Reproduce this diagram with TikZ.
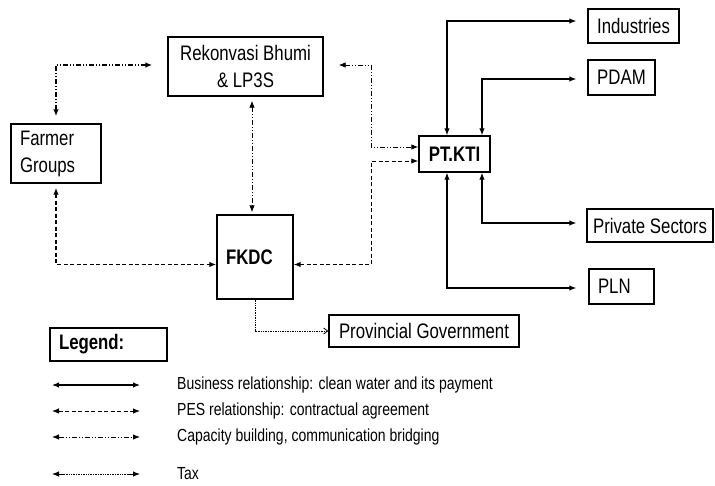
\documentclass[tikz,border=0pt]{standalone}
\usepackage{fontspec}
\setmainfont{Liberation Sans}[FakeStretch=0.8]
\usetikzlibrary{arrows.meta}
\begin{document}
\begin{tikzpicture}[x=1pt,y=-1pt,
  box/.style={draw, line width=1.4pt, inner sep=0pt, font=\fontsize{21}{27}\selectfont, align=center},
  lbox/.style={box, align=left, inner xsep=9pt},
  boldtext/.style={font=\fontsize{21}{27}\selectfont\bfseries},
  bothtips/.style={{Latex[length=7pt,width=5.5pt]}-{Latex[length=7pt,width=5.5pt]}},
  bizline/.style={bothtips, line width=1.2pt},
  pesline/.style={bothtips, line width=1.2pt, dash pattern=on 4pt off 2.5pt},
  capline/.style={bothtips, line width=1.1pt, dash pattern=on 5pt off 2pt on 1pt off 2pt on 1pt off 2pt},
  taxline/.style={line width=0.8pt, dash pattern=on 1pt off 0.7pt},
  legtext/.style={anchor=west, inner sep=0pt, font=\fontsize{17.5}{19}\selectfont}
]
\useasboundingbox (0,0) rectangle (715,485);

% boxes
\node[box, minimum width=155pt, minimum height=59pt] (rek) at (245.5,66.5) {Rekonvasi Bhumi\\\& LP3S};
\node[lbox, text width=72pt, minimum height=59pt] (farm) at (56,153.5) {Farmer\\Groups};
\node[box, minimum width=91pt, minimum height=34pt] (ind) at (633.5,26) {Industries};
\node[box, minimum width=67pt, minimum height=35pt] (pdam) at (621.5,77.5) {PDAM};
\node[box, boldtext, minimum width=71pt, minimum height=36pt] (ptkti) at (454.5,154) {PT.KTI};
\node[lbox, boldtext, text width=58pt, minimum height=84pt] (fkdc) at (255,257) {FKDC};
\node[box, minimum width=126pt, minimum height=33pt] (priv) at (650,225.5) {Private Sectors};
\node[lbox, text width=47pt, minimum height=35pt] (pln) at (621.5,286.5) {PLN};
\node[box, minimum width=190pt, minimum height=32pt] (prov) at (424,331) {Provincial Government};
\node[lbox, boldtext, text width=99pt, minimum height=33pt] (leg) at (108.5,344.5) {Legend:};

% capacity building connectors
\draw[capline, line width=1.4pt, shorten <=7pt, shorten >=15pt] (farm.north) |- ([yshift=1.5pt]rek.west);
\draw[capline, line width=0.9pt, shorten <=4pt, shorten >=2pt] ([xshift=-3pt]fkdc.north |- rek.south) -- ([xshift=-3pt]fkdc.north);
\draw[capline, line width=0.9pt, shorten <=15pt] ([yshift=1.5pt]rek.east) -| ([yshift=7pt,xshift=-47pt]ptkti.west) -- ([yshift=7pt]ptkti.west);

% PES connectors
\draw[pesline, line width=1.5pt, shorten <=4pt] (farm.south) |- ([yshift=-7.5pt]fkdc.west);
\draw[pesline, line width=1pt] ([yshift=-7.5pt]fkdc.east) -| ([yshift=-7pt,xshift=-47pt]ptkti.west) -- ([yshift=-7pt]ptkti.west);

% tax connector
\draw[taxline, -{Straight Barb[length=4pt,width=6pt]}] (fkdc.south) |- (prov.west);

% business connectors
\draw[bizline, shorten >=11pt] ([xshift=-7.5pt]ptkti.north) |- ([yshift=5pt]ind.west);
\draw[bizline, shorten >=11pt] ([xshift=27.5pt]ptkti.north) |- ([yshift=-1.5pt]pdam.west);
\draw[bizline, shorten >=10pt] ([xshift=27.5pt]ptkti.south) |- ([yshift=2.5pt]priv.west);
\draw[bizline, shorten >=12pt] ([xshift=-7.5pt]ptkti.south) |- ([yshift=-1.5pt]pln.west);

% legend
\node[legtext] (t1) at (177,385) {Business relationship: clean water and its payment};
\node[legtext] (t2) at (177,411) {PES relationship: contractual agreement};
\node[legtext] (t3) at (177,437) {Capacity building, communication bridging};
\node[legtext] (t4) at (177,474) {Tax};
\draw[bizline] ([xshift=-125pt]t1.west) -- ([xshift=-37pt]t1.west);
\draw[pesline, line width=0.9pt] ([xshift=-125pt]t2.west) -- ([xshift=-37pt]t2.west);
\draw[capline, line width=0.9pt] ([xshift=-125pt]t3.west) -- ([xshift=-37pt]t3.west);
\draw[{Latex[length=7pt,width=5.5pt]}-, line width=0.9pt] ([xshift=-125pt]t4.west) -- ([xshift=-113pt]t4.west);
\draw[taxline] ([xshift=-113pt]t4.west) -- ([xshift=-50pt]t4.west);
\draw[-{Latex[length=7pt,width=5.5pt]}, line width=0.9pt] ([xshift=-50pt]t4.west) -- ([xshift=-37pt]t4.west);
\end{tikzpicture}
\end{document}
